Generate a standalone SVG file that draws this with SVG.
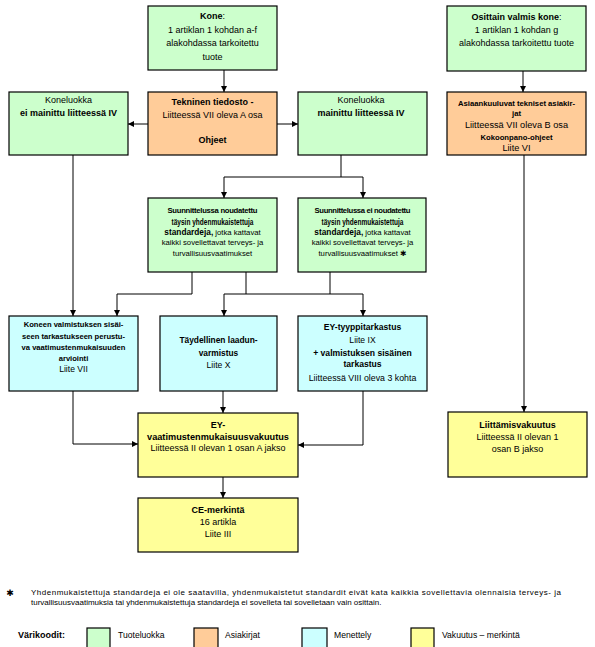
<svg xmlns="http://www.w3.org/2000/svg" width="595" height="647" viewBox="0 0 595 647">
<style>
text{font-family:"Liberation Sans",Arial,sans-serif;font-size:9px;fill:#000;text-anchor:middle}
.b{font-weight:bold}
.s{font-size:7.7px}
.l{text-anchor:start}
.sym{font-family:"DejaVu Sans",sans-serif}
.box{stroke:#000;stroke-width:1.2}
.g{fill:#CCFFCC}.o{fill:#FFCC99}.c{fill:#CCFFFF}.y{fill:#FFFF99}
.cn path{fill:none;stroke:#000;stroke-width:1}
.ar{marker-end:url(#ah)}
</style>
<defs>
<marker id="ah" markerUnits="userSpaceOnUse" markerWidth="8" markerHeight="8" refX="6" refY="3" orient="auto">
<path d="M0,0 L6,3 L0,6 z" fill="#000"/>
</marker>
</defs>
<rect width="595" height="647" fill="#fff"/>

<g id="connectors" class="cn">
<path class="ar" d="M224,70 V92"/>
<path class="ar" d="M148,124 H128"/>
<path class="ar" d="M277,124 H298"/>
<path class="ar" d="M523,71 V92"/>
<path d="M341,155 V177 M224,177 H363"/>
<path class="ar" d="M224,177 V198"/>
<path class="ar" d="M363,177 V198"/>
<path class="ar" d="M73,155 V316"/>
<path class="ar" d="M192,272 V294 H117 V316"/>
<path d="M246,272 V294 M330,272 V294 M224,294 H363"/>
<path class="ar" d="M224,294 V316"/>
<path class="ar" d="M363,294 V316"/>
<path class="ar" d="M73,391 V444 H138"/>
<path class="ar" d="M223,391 V413"/>
<path class="ar" d="M363,391 V445 H298"/>
<path class="ar" d="M223,477 V498"/>
<path class="ar" d="M524,155 V412"/>
</g>

<g id="kone">
<rect class="box g" x="148" y="6" width="129" height="64"/>
<text x="212.5" y="19.3"><tspan class="b">Kone</tspan>:</text>
<text x="212.5" y="32.5">1 artiklan 1 kohdan a-f</text>
<text x="212.5" y="46">alakohdassa tarkoitettu</text>
<text x="212.5" y="59.5">tuote</text>
</g>

<g id="tekninen">
<rect class="box o" x="148" y="92" width="129" height="63"/>
<text class="b" x="212.5" y="105.3">Tekninen tiedosto -</text>
<text x="212.5" y="118.3">Liitteessä VII oleva A osa</text>
<text class="b" x="212.5" y="143.3">Ohjeet</text>
</g>

<g id="koneluokka-ei">
<rect class="box g" x="9" y="92" width="119" height="63"/>
<text x="68.5" y="103.3">Koneluokka</text>
<text class="b" x="68.5" y="116.3">ei mainittu liitteessä IV</text>
</g>

<g id="koneluokka-mainittu">
<rect class="box g" x="298" y="92" width="129" height="63"/>
<text x="361" y="103.3">Koneluokka</text>
<text class="b" x="361" y="116.3">mainittu liitteessä IV</text>
</g>

<g id="osittain">
<rect class="box g" x="447" y="6" width="139" height="65"/>
<text x="516.5" y="20.3"><tspan class="b">Osittain valmis kone</tspan>:</text>
<text x="516.5" y="33.3">1 artiklan 1 kohdan g</text>
<text x="516.5" y="46.3">alakohdassa tarkoitettu tuote</text>
</g>

<g id="asiakirjat">
<rect class="box o" x="447" y="92" width="139" height="63"/>
<text class="b" x="516.5" y="105.7" style="font-size:7.7px">Asiaankuuluvat tekniset asiakir-</text>
<text class="b" x="516.5" y="115.7" style="font-size:7.7px">jat</text>
<text x="516.5" y="128.2" style="font-size:9.2px">Liitteessä VII oleva B osa</text>
<text class="b" x="516.5" y="139.7" style="font-size:7.7px">Kokoonpano-ohjeet</text>
<text x="516.5" y="150.5" style="font-size:9.2px">Liite VI</text>
</g>

<g id="suunn-noudatettu">
<rect class="box g" x="148" y="198" width="129" height="74"/>
<text class="b s" x="212.5" y="212.7" textLength="90" lengthAdjust="spacing">Suunnittelussa noudatettu</text>
<text class="b" x="212.5" y="224.9" style="font-size:8.3px" textLength="82" lengthAdjust="spacingAndGlyphs">täysin yhdenmukaistettuja</text>
<text class="s" x="212.5" y="234.9"><tspan class="b" style="font-size:8.3px">standardeja,</tspan> jotka kattavat</text>
<text class="s" x="212.5" y="244.9">kaikki sovellettavat terveys- ja</text>
<text class="s" x="212.5" y="255.7">turvallisuusvaatimukset</text>
</g>

<g id="suunn-ei">
<rect class="box g" x="298" y="198" width="128" height="74"/>
<text class="b s" x="362.5" y="212.7" textLength="96" lengthAdjust="spacing">Suunnittelussa ei noudatettu</text>
<text class="b" x="362.5" y="224.9" style="font-size:8.3px" textLength="82" lengthAdjust="spacingAndGlyphs">täysin yhdenmukaistettuja</text>
<text class="s" x="362.5" y="234.9"><tspan class="b" style="font-size:8.3px">standardeja,</tspan> jotka kattavat</text>
<text class="s" x="362.5" y="244.9">kaikki sovellettavat terveys- ja</text>
<text class="s" x="362.5" y="255.7">turvallisuusvaatimukset <tspan class="sym">✱</tspan></text>
</g>

<g id="sisainen-tarkastus">
<rect class="box c" x="9" y="316" width="129" height="75"/>
<text class="b" x="73.5" y="326.8" style="font-size:7.6px">Koneen valmistuksen sisäi-</text>
<text class="b" x="73.5" y="338.8" style="font-size:7.6px">seen tarkastukseen perustu-</text>
<text class="b" x="73.5" y="349.8" style="font-size:7.6px">va vaatimustenmukaisuuden</text>
<text class="b" x="73.5" y="360.8" style="font-size:7.6px">arviointi</text>
<text x="73.5" y="372" style="font-size:8.6px">Liite VII</text>
</g>

<g id="laadunvarmistus">
<rect class="box c" x="160" y="316" width="117" height="75"/>
<text class="b" x="218.5" y="343.2" style="font-size:8.4px">Täydellinen laadun-</text>
<text class="b" x="218.5" y="356" style="font-size:8.4px">varmistus</text>
<text x="218.5" y="368" style="font-size:8.6px">Liite X</text>
</g>

<g id="ey-tyyppitarkastus">
<rect class="box c" x="298" y="316" width="129" height="75"/>
<text class="b" x="362.5" y="330" style="font-size:8.6px">EY-tyyppitarkastus</text>
<text x="362.5" y="343" style="font-size:8.6px">Liite IX</text>
<text class="b" x="362.5" y="356" style="font-size:8.6px">+ valmistuksen sisäinen</text>
<text class="b" x="362.5" y="367.3" style="font-size:8.6px">tarkastus</text>
<text x="362.5" y="381" style="font-size:8.8px">Liitteessä VIII oleva 3 kohta</text>
</g>

<g id="ey-vaatimustenmukaisuusvakuutus">
<rect class="box y" x="138" y="413" width="160" height="64"/>
<text class="b" x="218" y="428.3">EY-</text>
<text class="b" x="218" y="439.5" style="font-size:9.2px">vaatimustenmukaisuusvakuutus</text>
<text x="218" y="450.5">Liitteessä II olevan 1 osan A jakso</text>
</g>

<g id="ce-merkinta">
<rect class="box y" x="138" y="498" width="160" height="54"/>
<text class="b" x="218" y="513.3">CE-merkintä</text>
<text x="218" y="525.3">16 artikla</text>
<text x="218" y="537.3">Liite III</text>
</g>

<g id="liittamisvakuutus">
<rect class="box y" x="448" y="412" width="139" height="65"/>
<text class="b" x="517.5" y="428.3">Liittämisvakuutus</text>
<text x="517.5" y="440.3">Liitteessä II olevan 1</text>
<text x="517.5" y="451.6">osan B jakso</text>
</g>

<g id="footnote">
<text class="sym" x="10" y="595.5" style="font-size:9px">✱</text>
<text class="l" x="31" y="595" style="font-size:8px" textLength="530" lengthAdjust="spacing">Yhdenmukaistettuja standardeja ei ole saatavilla, yhdenmukaistetut standardit eivät kata kaikkia sovellettavia olennaisia terveys- ja</text>
<text class="l" x="31" y="604.5" style="font-size:8px">turvallisuusvaatimuksia tai yhdenmukaistettuja standardeja ei sovelleta tai sovelletaan vain osittain.</text>
</g>

<g id="legend">
<text class="b l" x="18" y="638.3">Värikoodit:</text>
<rect class="box g" x="87" y="628" width="23" height="22"/>
<text class="l" x="118" y="638.3" style="font-size:8.6px">Tuoteluokka</text>
<rect class="box o" x="194" y="628" width="24" height="22"/>
<text class="l" x="225" y="638.3" style="font-size:8.6px">Asiakirjat</text>
<rect class="box c" x="302" y="628" width="25" height="22"/>
<text class="l" x="334" y="638.3" style="font-size:8.6px">Menettely</text>
<rect class="box y" x="411" y="628" width="23" height="22"/>
<text class="l" x="442" y="638.3" style="font-size:8.6px">Vakuutus – merkintä</text>
</g>
</svg>
